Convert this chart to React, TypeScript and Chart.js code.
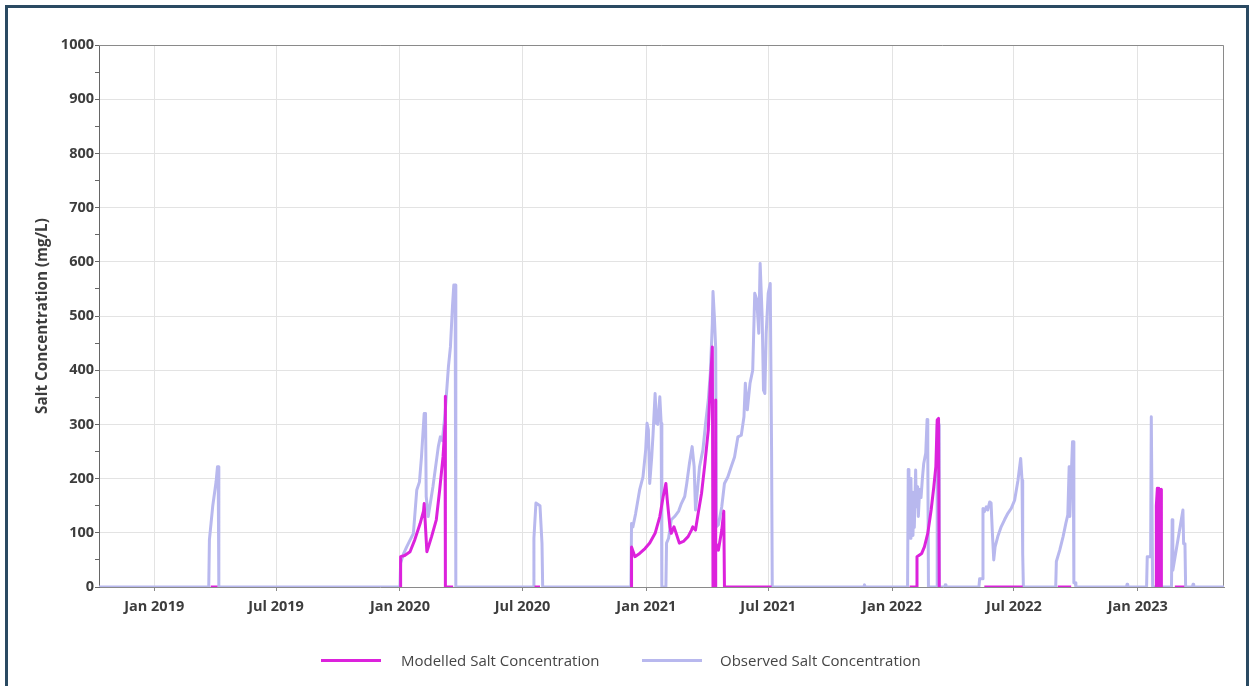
import React, { useEffect, useRef } from 'react';
import { Chart, registerables } from 'chart.js';

Chart.register(...registerables);

// ---- Axis ranges and tick labels ----
const xRange = ['2018-10-11', '2023-05-09'];
const xTickDates = ['2019-01-01', '2019-07-01', '2020-01-01', '2020-07-01', '2021-01-01', '2021-07-01', '2022-01-01', '2022-07-01', '2023-01-01'];
const xTickLabels = ['Jan 2019', 'Jul 2019', 'Jan 2020', 'Jul 2020', 'Jan 2021', 'Jul 2021', 'Jan 2022', 'Jul 2022', 'Jan 2023'];
const yRange = [0, 1000];
const yMinorStep = 50;
const yMajorStep = 100;

const seriesNames = ['Modelled Salt Concentration', 'Observed Salt Concentration'];
const seriesColors = ['#dc22dc', '#b8b8ee'];

// ---- Observed salt concentration (mg/L) ----
const observedDates = [
  '2018-10-11', '2019-03-23', '2019-03-24', '2019-03-29', '2019-04-03', '2019-04-05', '2019-04-06', '2019-04-07',
  '2020-01-01', '2020-01-02', '2020-01-06', '2020-01-11', '2020-01-21', '2020-01-26', '2020-01-30', '2020-02-02', '2020-02-06', '2020-02-08',
  '2020-02-09', '2020-02-12', '2020-02-19', '2020-02-27', '2020-03-01', '2020-03-04', '2020-03-08', '2020-03-13', '2020-03-16', '2020-03-19',
  '2020-03-21', '2020-03-23', '2020-03-24',
  '2020-07-17', '2020-07-18', '2020-07-21', '2020-07-27', '2020-07-30', '2020-07-31',
  '2020-12-09', '2020-12-10', '2020-12-12', '2020-12-16', '2020-12-22', '2020-12-27', '2020-12-31', '2021-01-02', '2021-01-04', '2021-01-06',
  '2021-01-09', '2021-01-11', '2021-01-14', '2021-01-16', '2021-01-18', '2021-01-21', '2021-01-23', '2021-01-24', '2021-01-30', '2021-01-31',
  '2021-02-03', '2021-02-07', '2021-02-12', '2021-02-18', '2021-02-22', '2021-02-27', '2021-03-02', '2021-03-06', '2021-03-10', '2021-03-13',
  '2021-03-15', '2021-03-18', '2021-03-21', '2021-03-26', '2021-03-30', '2021-04-03', '2021-04-06', '2021-04-09', '2021-04-10', '2021-04-12',
  '2021-04-14', '2021-04-15', '2021-04-18', '2021-04-23', '2021-04-27', '2021-05-02', '2021-05-07', '2021-05-12', '2021-05-17', '2021-05-22',
  '2021-05-26', '2021-05-28', '2021-05-31', '2021-06-04', '2021-06-08', '2021-06-11', '2021-06-14', '2021-06-17', '2021-06-19', '2021-06-22',
  '2021-06-24', '2021-06-26', '2021-06-28', '2021-07-01', '2021-07-04', '2021-07-06', '2021-07-07',
  '2021-11-20', '2021-11-21', '2021-11-22',
  '2022-01-24', '2022-01-25', '2022-01-26', '2022-01-27', '2022-01-28', '2022-01-29', '2022-01-30', '2022-01-31', '2022-02-01', '2022-02-02',
  '2022-02-03', '2022-02-05', '2022-02-06', '2022-02-08', '2022-02-09', '2022-02-11', '2022-02-13', '2022-02-15', '2022-02-17', '2022-02-20',
  '2022-02-22', '2022-02-23', '2022-02-24', '2022-03-09', '2022-03-09', '2022-03-12', '2022-03-12', '2022-03-20', '2022-03-21', '2022-03-22',
  '2022-05-10', '2022-05-11', '2022-05-15', '2022-05-16', '2022-05-18', '2022-05-21', '2022-05-23', '2022-05-26', '2022-05-28', '2022-05-30',
  '2022-06-01', '2022-06-03', '2022-06-07', '2022-06-12', '2022-06-17', '2022-06-22', '2022-06-27', '2022-07-02', '2022-07-07', '2022-07-11',
  '2022-07-13', '2022-07-14', '2022-07-15',
  '2022-09-01', '2022-09-02', '2022-09-07', '2022-09-12', '2022-09-16', '2022-09-19', '2022-09-21', '2022-09-22', '2022-09-24', '2022-09-26',
  '2022-09-27', '2022-09-28', '2022-09-30', '2022-10-01',
  '2022-12-15', '2022-12-16', '2022-12-17', '2023-01-14', '2023-01-15', '2023-01-20', '2023-01-21', '2023-01-22', '2023-01-23', '2023-02-20',
  '2023-02-21', '2023-02-22', '2023-03-09', '2023-03-10', '2023-03-12', '2023-03-13', '2023-03-23', '2023-03-24', '2023-03-25', '2023-05-09',
];
const observedValues = [
  0, 0, 87, 150, 195, 222, 222, 0,
  0, 44, 60, 74, 99, 179, 194, 240, 320, 320,
  167, 130, 185, 259, 277, 270, 320, 406, 443, 517,
  557, 557, 0,
  0, 90, 155, 150, 80, 0,
  0, 117, 111, 135, 179, 203, 253, 302, 290, 191,
  240, 283, 357, 302, 300, 351, 302, 0, 0, 81,
  90, 124, 130, 140, 154, 167, 191, 228, 259, 222,
  142, 180, 222, 253, 302, 345, 394, 486, 545, 499,
  440, 111, 115, 148, 191, 203, 222, 240, 277, 280,
  314, 376, 327, 376, 400, 542, 530, 468, 597, 499,
  363, 357, 468, 542, 560, 253, 0,
  0, 4, 0,
  0, 217, 100, 165, 90, 200, 105, 175, 95, 160,
  110, 216, 148, 185, 130, 180, 165, 200, 228, 247,
  309, 253, 0, 0, 300, 300, 0, 0, 4, 0,
  0, 15, 15, 145, 139, 148, 142, 157, 155, 99,
  50, 74, 93, 111, 124, 136, 145, 160, 197, 237,
  197, 62, 0,
  0, 47, 68, 93, 117, 133, 222, 130, 200, 268,
  268, 8, 8, 0,
  0, 5, 0, 0, 56, 56, 314, 314, 0, 0,
  124, 31, 142, 80, 80, 0, 0, 5, 0, 0,
];

// ---- Modelled salt concentration (mg/L); null = no model output ----
const modelledDates = [
  '2019-03-26', '2019-04-05', '2019-04-06',
  '2020-01-02', '2020-01-02', '2020-01-08', '2020-01-16', '2020-01-23', '2020-01-31', '2020-02-05', '2020-02-06', '2020-02-10', '2020-02-17',
  '2020-02-24', '2020-02-29', '2020-03-05', '2020-03-08', '2020-03-08', '2020-03-09', '2020-03-20', '2020-03-21',
  '2020-07-19', '2020-07-27', '2020-07-28',
  '2020-12-10', '2020-12-10', '2020-12-15', '2020-12-22', '2020-12-30', '2021-01-06', '2021-01-14', '2021-01-21', '2021-01-26', '2021-01-30',
  '2021-02-01', '2021-02-05', '2021-02-07', '2021-02-11', '2021-02-14', '2021-02-19', '2021-02-25', '2021-03-04', '2021-03-09', '2021-03-11',
  '2021-03-15', '2021-03-19', '2021-03-24', '2021-03-29', '2021-04-03', '2021-04-06', '2021-04-08', '2021-04-09', '2021-04-10', '2021-04-13',
  '2021-04-14', '2021-04-14', '2021-04-18', '2021-04-23', '2021-04-26', '2021-04-27', '2021-07-06', '2021-07-07',
  '2022-01-27', '2022-02-07', '2022-02-07', '2022-02-14', '2022-02-18', '2022-02-23', '2022-02-28', '2022-03-04', '2022-03-07', '2022-03-09',
  '2022-03-11', '2022-03-12', '2022-03-13',
  '2022-05-18', '2022-07-14', '2022-07-15',
  '2022-09-04', '2022-09-24', '2022-09-25',
  '2023-01-28', '2023-01-28', '2023-01-29', '2023-01-30', '2023-01-31', '2023-02-01', '2023-02-02', '2023-02-03', '2023-02-04', '2023-02-05',
  '2023-02-05', '2023-02-06',
  '2023-02-25', '2023-03-11', '2023-03-12',
];
const modelledValues: (number | null)[] = [
  0, 0, null,
  0, 56, 58, 65, 87, 117, 140, 154, 65, 93,
  124, 179, 240, 300, 352, 0, 0, null,
  0, 0, null,
  0, 74, 56, 62, 71, 81, 99, 130, 167, 191,
  161, 111, 99, 111, 100, 81, 84, 93, 105, 111,
  105, 136, 173, 228, 290, 376, 419, 443, 0, 0,
  345, 81, 68, 105, 140, 0, 0, null,
  0, 0, 56, 62, 74, 99, 142, 185, 222, 308,
  311, 0, null,
  0, 0, null,
  0, 0, null,
  0, 125, 150, 182, 170, 182, 175, 180, 178, 180,
  0, null,
  0, 0, null,
];

const toMs = (d: string) => Date.parse(d + 'T00:00:00Z');
const toPoints = (dates: string[], values: (number | null)[]) =>
  dates.map((d, i) => ({ x: toMs(d), y: values[i] }));

const FONT = '"Open Sans", "DejaVu Sans", sans-serif';
const TEXT_COLOR = '#3d3d3d';

const plotFrame = {
  id: 'plotFrame',
  beforeDatasetsDraw(chart: any) {
    const { ctx, chartArea } = chart;
    ctx.save();
    ctx.strokeStyle = '#8a8a8a';
    ctx.lineWidth = 1;
    ctx.beginPath();
    ctx.moveTo(chartArea.left, chartArea.top + 0.5);
    ctx.lineTo(chartArea.right - 0.5, chartArea.top + 0.5);
    ctx.lineTo(chartArea.right - 0.5, chartArea.bottom);
    ctx.stroke();
    ctx.restore();
  },
};

// fills the area under the modelled 2023 peak so it reads as a solid bar like the reference
const solidBars = {
  id: 'solidBars',
  afterDatasetsDraw(chart: any) {
    const meta = chart.getDatasetMeta(0);
    const pts = meta.data;
    const { ctx } = chart;
    const yZero = chart.scales.y.getPixelForValue(0);
    const start = modelledDates.indexOf('2023-01-28');
    const end = modelledDates.lastIndexOf('2023-02-05');
    if (start < 0 || end < 0) return;
    ctx.save();
    ctx.fillStyle = seriesColors[0];
    ctx.beginPath();
    ctx.moveTo(pts[start].x, yZero);
    for (let i = start + 1; i < end; i++) ctx.lineTo(pts[i].x, pts[i].y);
    ctx.lineTo(pts[end].x, yZero);
    ctx.closePath();
    ctx.fill();
    ctx.restore();
  },
};

export default function App() {
  const canvasRef = useRef<HTMLCanvasElement | null>(null);

  useEffect(() => {
    if (!canvasRef.current) return;
    const chart = new Chart(canvasRef.current, {
      type: 'line',
      data: {
        datasets: [
          {
            label: seriesNames[0],
            data: toPoints(modelledDates, modelledValues),
            borderColor: seriesColors[0],
            backgroundColor: seriesColors[0],
            borderWidth: 3,
            pointRadius: 0,
            tension: 0,
            spanGaps: false,
            borderJoinStyle: 'round',
          },
          {
            label: seriesNames[1],
            data: toPoints(observedDates, observedValues),
            borderColor: seriesColors[1],
            backgroundColor: seriesColors[1],
            borderWidth: 3,
            pointRadius: 0,
            tension: 0,
            borderJoinStyle: 'round',
          },
        ],
      },
      options: {
        animation: false,
        responsive: false,
        devicePixelRatio: 1,
        layout: { padding: { left: 0, top: 45, right: 30, bottom: 0 } },
        plugins: { legend: { display: false }, tooltip: { enabled: false } },
        scales: {
          x: {
            type: 'linear',
            min: toMs(xRange[0]),
            max: toMs(xRange[1]),
            afterBuildTicks: (scale: any) => {
              scale.ticks = xTickDates.map((d) => ({ value: toMs(d) }));
            },
            afterFit: (scale: any) => {
              scale.height = 99;
            },
            ticks: {
              autoSkip: false,
              maxRotation: 0,
              padding: 7,
              color: TEXT_COLOR,
              font: { family: FONT, size: 14.5, weight: 'bold' },
              callback: (_v: any, i: number) => xTickLabels[i],
            },
            grid: { color: '#e3e3e3', tickColor: '#888', tickLength: 4 },
            border: { color: '#8a8a8a' },
          },
          y: {
            min: yRange[0],
            max: yRange[1],
            afterFit: (scale: any) => {
              scale.width = 99;
            },
            ticks: {
              stepSize: yMinorStep,
              autoSkip: false,
              padding: 1,
              color: TEXT_COLOR,
              font: { family: FONT, size: 14.5, weight: 'bold' },
              callback: (v: any) => (Number(v) % yMajorStep === 0 ? String(v) : ''),
            },
            grid: {
              color: (c: any) => (c.tick && c.tick.value % yMajorStep === 0 ? '#e3e3e3' : 'rgba(0,0,0,0)'),
              tickColor: '#666',
              tickLength: 4,
            },
            border: { color: '#666' },
            title: {
              display: true,
              text: 'Salt Concentration (mg/L)',
              color: TEXT_COLOR,
              font: { family: FONT, size: 15.3, weight: 'bold' },
              padding: { top: 33, bottom: 0 },
            },
          },
        },
      },
      plugins: [plotFrame, solidBars],
    } as any);
    return () => chart.destroy();
  }, []);

  const legendText: React.CSSProperties = {
    position: 'absolute',
    top: 650,
    font: `15px ${FONT}`,
    lineHeight: '20px',
    color: '#454545',
    whiteSpace: 'nowrap',
  };

  return (
    <div style={{ position: 'fixed', left: 0, top: 0, width: 1254, height: 686, background: '#fff', overflow: 'hidden' }}>
      <canvas ref={canvasRef} width={1254} height={686} style={{ position: 'absolute', left: 0, top: 0 }} />
      <div style={{ position: 'absolute', left: 321, top: 659, width: 60, height: 3, background: seriesColors[0] }} />
      <span style={{ ...legendText, left: 401 }}>{seriesNames[0]}</span>
      <div style={{ position: 'absolute', left: 642, top: 659, width: 60, height: 3, background: seriesColors[1] }} />
      <span style={{ ...legendText, left: 720 }}>{seriesNames[1]}</span>
      <div
        style={{
          position: 'absolute',
          left: 5,
          top: 5,
          width: 1244,
          height: 720,
          boxSizing: 'border-box',
          border: '3px solid #2a4a62',
          pointerEvents: 'none',
        }}
      />
    </div>
  );
}
